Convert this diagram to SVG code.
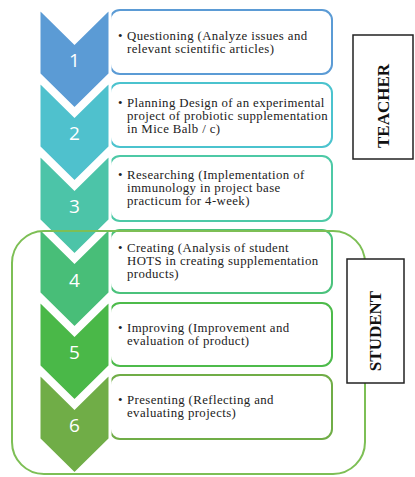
<svg xmlns="http://www.w3.org/2000/svg" width="415" height="477" viewBox="0 0 415 477">
<style>
.box{fill:#fff;stroke-width:2}
.chev{stroke:#fff;stroke-width:3;stroke-linejoin:miter}
.num{font-family:"Open Sans","Liberation Sans",sans-serif;font-size:19px;fill:#fff;text-anchor:middle}
.t{font-family:"Liberation Serif",serif;font-size:12.8px;letter-spacing:0.4px;fill:#222}
.lbl{font-family:"Liberation Serif",serif;font-size:17px;font-weight:bold;fill:#111;text-anchor:middle}
</style>
<rect width="415" height="477" fill="#fff"/>
<g id="box1"><rect class="box" x="110" y="10" width="222" height="64" rx="10" stroke="#5B9BD5"/>
<text class="t"><tspan x="118" y="40">•</tspan><tspan x="127" y="40">Questioning (Analyze issues and</tspan><tspan x="127" y="53">relevant scientific articles)</tspan></text></g>
<g id="box2"><rect class="box" x="110" y="83" width="222" height="64" rx="10" stroke="#4BC3CE"/>
<text class="t"><tspan x="118" y="106.5">•</tspan><tspan x="127" y="106.5">Planning Design of an experimental</tspan><tspan x="127" y="119.5">project of probiotic supplementation</tspan><tspan x="127" y="132.5">in Mice Balb / c)</tspan></text></g>
<g id="box3"><rect class="box" x="110" y="156" width="222" height="65" rx="10" stroke="#4DC9A6"/>
<text class="t"><tspan x="118" y="179">•</tspan><tspan x="127" y="179">Researching (Implementation of</tspan><tspan x="127" y="192">immunology in project base</tspan><tspan x="127" y="205">practicum for 4-week)</tspan></text></g>
<g id="box4"><rect class="box" x="110" y="230" width="222" height="63" rx="10" stroke="#4BC27C"/>
<text class="t"><tspan x="118" y="251.5">•</tspan><tspan x="127" y="251.5">Creating (Analysis of student</tspan><tspan x="127" y="264.5">HOTS in creating supplementation</tspan><tspan x="127" y="277.5">products)</tspan></text></g>
<g id="box5"><rect class="box" x="110" y="303" width="222" height="63" rx="10" stroke="#4DBB4B"/>
<text class="t"><tspan x="118" y="332">•</tspan><tspan x="127" y="332">Improving (Improvement and</tspan><tspan x="127" y="345">evaluation of product)</tspan></text></g>
<g id="box6"><rect class="box" x="110" y="375" width="222" height="64" rx="10" stroke="#70AD47"/>
<text class="t"><tspan x="118" y="404">•</tspan><tspan x="127" y="404">Presenting (Reflecting and</tspan><tspan x="127" y="417">evaluating projects)</tspan></text></g>
<g id="chev1"><polygon class="chev" fill="#5B9BD5" points="39,8 74.5,43 110,8 110,74 74.5,109 39,74"/><text class="num" x="74.5" y="67">1</text></g>
<g id="chev2"><polygon class="chev" fill="#4FC1CD" points="39,81 74.5,116 110,81 110,147 74.5,182 39,147"/><text class="num" x="74.5" y="140">2</text></g>
<g id="chev3"><polygon class="chev" fill="#4CC4A8" points="39,154 74.5,189 110,154 110,220 74.5,255 39,220"/><text class="num" x="74.5" y="213">3</text></g>
<g id="chev4"><polygon class="chev" fill="#48BE78" points="39,227 74.5,262 110,227 110,293 74.5,328 39,293"/><text class="num" x="74.5" y="287">4</text></g>
<g id="chev5"><polygon class="chev" fill="#4AB848" points="39,300 74.5,335 110,300 110,366 74.5,401 39,366"/><text class="num" x="74.5" y="359">5</text></g>
<g id="chev6"><polygon class="chev" fill="#70AD47" points="39,373 74.5,408 110,373 110,439 74.5,474 39,439"/><text class="num" x="74.5" y="432">6</text></g>
<g id="connectors"></g>
<g id="student-group"><rect x="12" y="231" width="353" height="243" rx="32" fill="none" stroke="#7DBF55" stroke-width="2"/></g>
<g id="teacher"><rect x="353" y="35" width="60" height="124" fill="#fff" stroke="#222" stroke-width="1.5"/>
<text class="lbl" transform="translate(389,106) rotate(-90)">TEACHER</text></g>
<g id="student"><rect x="347" y="259" width="57" height="124" fill="#fff" stroke="#222" stroke-width="1.5"/>
<text class="lbl" transform="translate(381,331) rotate(-90)">STUDENT</text></g>
</svg>
